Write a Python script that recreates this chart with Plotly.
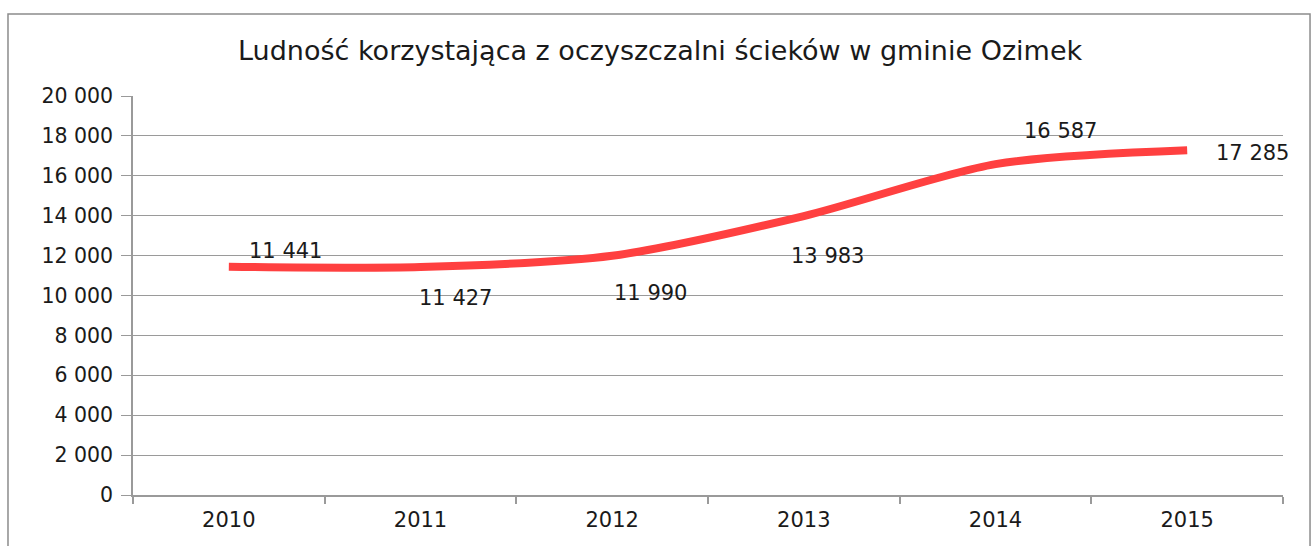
import plotly.graph_objects as go

years = ["2010", "2011", "2012", "2013", "2014", "2015"]
values = [11441, 11427, 11990, 13983, 16587, 17285]
labels = ["11 441", "11 427", "11 990", "13 983", "16 587", "17 285"]
label_shift_x = [57, 35, 38, 24, 65, 65]
label_shift_y = [16, -31, -37, -40, 33, -3]
y_ticks = list(range(0, 20001, 2000))
y_tick_text = ["0", "2 000", "4 000", "6 000", "8 000", "10 000", "12 000",
               "14 000", "16 000", "18 000", "20 000"]
title = "Ludność korzystająca z oczyszczalni ścieków w gminie Ozimek"

FONT = "DejaVu Sans"
GRID = "#9a9a9a"

fig = go.Figure()
fig.add_trace(go.Scatter(
    x=years, y=values, mode="lines",
    line=dict(color="#FF4040", width=8, shape="spline", smoothing=0.8),
    hoverinfo="skip", showlegend=False,
))

for i, (v, t, dx, dy) in enumerate(zip(values, labels, label_shift_x, label_shift_y)):
    fig.add_annotation(x=i, y=v, text=t, showarrow=False,
                       xshift=dx, yshift=dy,
                       font=dict(family=FONT, size=21, color="#1a1a1a"))

fig.add_shape(type="rect", xref="paper", yref="paper",
              x0=-0.1087, x1=1.0235, y0=-0.2, y1=1.2055,
              line=dict(color="#8c8c8c", width=1.5), layer="below")

fig.add_annotation(xref="paper", yref="paper", x=0.4585, y=1.115,
                   text=title, showarrow=False, yanchor="middle",
                   font=dict(family=FONT, size=27, color="#1a1a1a"))

fig.update_layout(
    width=1314, height=546,
    margin=dict(l=133, r=31, t=96, b=51),
    paper_bgcolor="white", plot_bgcolor="white",
    font=dict(family=FONT, size=20, color="#1a1a1a"),
    xaxis=dict(type="category", categoryorder="array", categoryarray=years,
               range=[-0.5, 5.5], autorange=False,
               showgrid=False, showline=True,
               linecolor=GRID, linewidth=1.5,
               ticks="outside", tickson="boundaries", ticklen=7,
               tickcolor=GRID, tickwidth=1.5, tickangle=0,
               ticklabelstandoff=5,
               tickfont=dict(family=FONT, size=21)),
    yaxis=dict(range=[0, 20000], tickvals=y_ticks, ticktext=y_tick_text,
               showgrid=True, gridcolor=GRID, gridwidth=1.2,
               showline=True, linecolor=GRID, linewidth=1.5,
               ticks="outside", ticklen=10, tickcolor=GRID, tickwidth=1.2,
               ticklabelstandoff=4,
               zeroline=False, tickfont=dict(family=FONT, size=20.5)),
)

fig.write_html(
    "out.html",
    config={"displayModeBar": False},
    post_script="document.body.style.margin='0';document.body.style.overflow='hidden';",
)
